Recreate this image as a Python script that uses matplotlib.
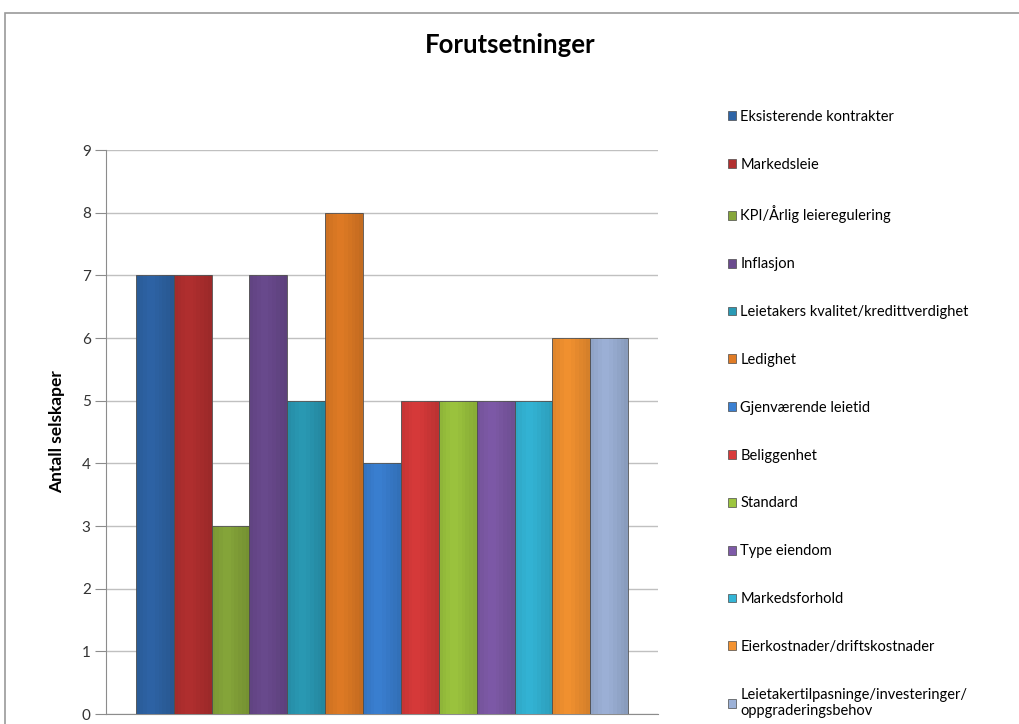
import matplotlib
matplotlib.use('Agg')
import matplotlib.pyplot as plt
from matplotlib.patches import Rectangle, Patch

plt.rcParams['font.family'] = ['Lato', 'DejaVu Sans']

labels = [
    'Eksisterende kontrakter',
    'Markedsleie',
    'KPI/Årlig leieregulering',
    'Inflasjon',
    'Leietakers kvalitet/kredittverdighet',
    'Ledighet',
    'Gjenværende leietid',
    'Beliggenhet',
    'Standard',
    'Type eiendom',
    'Markedsforhold',
    'Eierkostnader/driftskostnader',
    'Leietakertilpasninge/investeringer/\noppgraderingsbehov',
]
values = [7, 7, 3, 7, 5, 8, 4, 5, 5, 5, 5, 6, 6]
colors = ['#2E64A6', '#B22F2F', '#86A63A', '#6A4A8E', '#2A9AB5', '#E07B25',
          '#3A80D2', '#D83A3A', '#9CC53E', '#7E5AA8', '#33B5D6', '#F39230',
          '#9DB2D8']
yticks = list(range(10))

fig = plt.figure(figsize=(10.2, 7.24), dpi=100)

# outer chart frame
fig.patches.append(Rectangle((5 / 1020, -0.1), 1.2, 1 - 13 / 724 + 0.1,
                             transform=fig.transFigure, fill=False,
                             edgecolor='#9a9a9a', lw=1.2))

ax = fig.add_axes([106 / 1020, 1 - 714 / 724, 552 / 1020, 564 / 724])
x = list(range(len(values)))
n_strips = 10
for xi, v, c in zip(x, values, colors):
    ax.bar(xi, v, width=1.0, color=c, edgecolor='#555555', linewidth=0.6,
           zorder=3)
    # soft horizontal shading to mimic the gradient bars
    for k in range(n_strips):
        frac = (k + 0.5) / n_strips
        shade = abs(frac - 0.4) * 0.22
        ax.bar(xi - 0.5 + frac, v, width=1.0 / n_strips, color='black',
               alpha=shade, lw=0, zorder=4)

pad = 0.79
ax.set_xlim(-0.5 - pad, len(values) - 0.5 + pad)
ax.set_ylim(0, 9)
ax.set_yticks(yticks)
ax.set_xticks([])
ax.tick_params(axis='y', length=8, color='#8c8c8c', labelsize=11,
               labelcolor='#333333', pad=3)
ax.grid(axis='y', color='#c0c0c0', lw=1, zorder=0)
for s in ['top', 'right']:
    ax.spines[s].set_visible(False)
ax.spines['left'].set_color('#8c8c8c')
ax.spines['bottom'].set_color('#8c8c8c')
ax.set_ylabel('Antall selskaper', fontsize=12.5, fontweight='bold',
              labelpad=12)

fig.text(510 / 1020, 1 - 45 / 724, 'Forutsetninger', ha='center',
         va='center', fontsize=18.5, fontweight='bold')

handles = [Patch(facecolor=c, edgecolor='#4a4a4a', lw=0.5) for c in colors]
fig.legend(handles, labels, loc='upper left',
           bbox_to_anchor=(722 / 1020, 1 - 104 / 724), frameon=False,
           fontsize=10.5, handlelength=0.55, handleheight=0.55,
           handletextpad=0.3, labelspacing=2.32, borderaxespad=0)

fig.savefig('out.png', dpi=100)
